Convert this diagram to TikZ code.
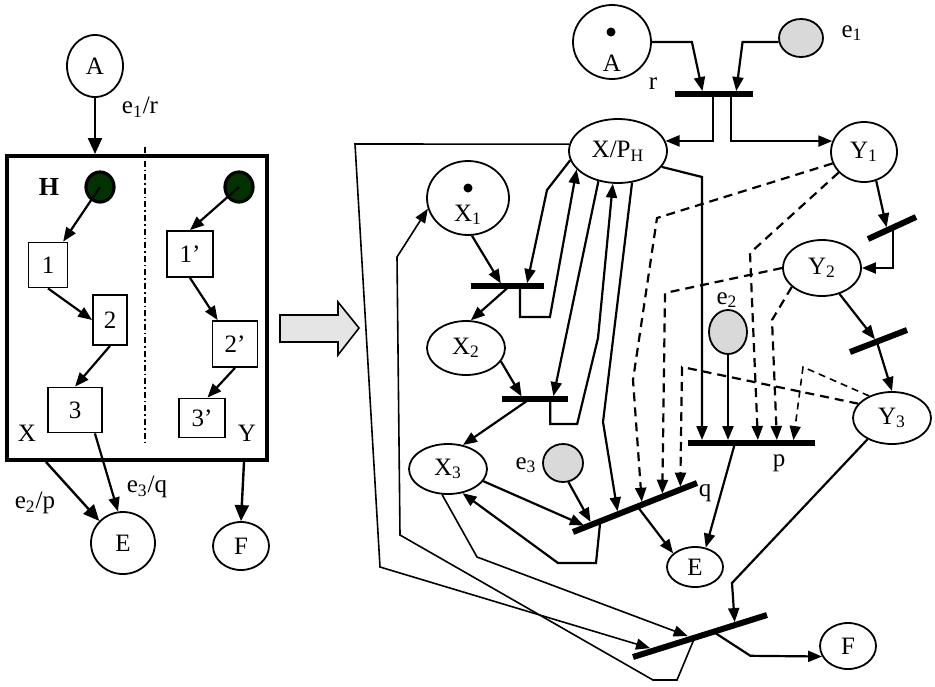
\documentclass[tikz,border=0pt]{standalone}
\usepackage{fontspec}
\setmainfont{Liberation Serif}
\usepackage{tikz}
\usetikzlibrary{arrows.meta,shapes.geometric,calc}
\definecolor{startGreen}{RGB}{0,51,0}
\definecolor{eventGray}{RGB}{217,217,217}

\begin{document}
\begin{tikzpicture}[x=0.5pt,y=-0.5pt,
    font=\fontsize{12.5}{14}\selectfont,
    place/.style={draw,ellipse,line width=0.9pt,inner sep=0pt},
    evt/.style={place,fill=eventGray},
    start/.style={draw,ellipse,fill=startGreen,line width=1.6pt,inner sep=0pt,minimum width=14pt,minimum height=15pt},
    state/.style={draw,rectangle,line width=0.9pt,inner sep=0pt},
    arc/.style={-{Triangle[length=7pt,width=5.5pt]},line width=1.1pt},
    bigarc/.style={-{Triangle[length=8pt,width=7pt]},line width=1.2pt},
    dep/.style={arc,dash pattern=on 4.5pt off 3pt},
    route/.style={arc,line width=0.8pt},
    tobar/.style={shorten >=1.5pt},
    bar/.style={line width=3pt},
    tok/.style={circle,fill,inner sep=0pt,minimum size=4.5pt}]
  \useasboundingbox (0,0) rectangle (935,686);

  % LEFT: hierarchical state H
  \node[place,minimum width=28pt,minimum height=31pt] (hA) at (95,66) {A};
  \node (lr) at (140,107) {e\textsubscript{1}/r};
  \node[draw,line width=2pt,inner sep=0pt,minimum width=130pt,minimum height=152pt] (H) at (137,308) {};
  \coordinate (divT) at (145,147);
  \coordinate (divB) at (145,442);
  \draw[line width=0.8pt,dash pattern=on 3pt off 1.5pt on 0.8pt off 1.5pt] (divT) -- (divB);
  \node[font=\fontsize{13}{14}\selectfont\bfseries] (Hlab) at (49,187) {H};
  \node[start] (s1) at (100,187) {};
  \node[start] (s2) at (239,187) {};
  \node[state,minimum width=19.5pt,minimum height=22.5pt] (b1) at (48,265) {1};
  \node[state,minimum width=17pt,minimum height=25pt] (b2) at (110,320) {2};
  \node[state,minimum width=27pt,minimum height=22.5pt] (b3) at (75,410) {3};
  \node[state,minimum width=23pt,minimum height=23pt] (c1) at (190,254) {1’};
  \node[state,minimum width=22.5pt,minimum height=23pt] (c2) at (235,344) {2’};
  \node[state,minimum width=23pt,minimum height=19.5pt] (c3) at (202,418) {3’};
  \node (lX) at (27,433) {X};
  \node (lY) at (247,433) {Y};
  \node[place,minimum width=32pt,minimum height=31pt] (hE) at (123,543) {E};
  \node[place,minimum width=28pt,minimum height=24pt] (hF) at (241,546) {F};
  \node (lp) at (35,503) {e\textsubscript{2}/p};
  \node (lq) at (147,487) {e\textsubscript{3}/q};

  \draw[bigarc] (hA) -- (hA |- H.north);
  \draw[arc] (s1.center) -- (b1.57);
  \draw[arc] (b1.south) -- (b2.west);
  \draw[arc] (b2.south) -- (b3.north);
  \draw[arc] (s2.center) -- (c1.north);
  \draw[arc] (c1.south) -- (c2.126);
  \draw[arc] (c2.south) -- (c3.75);
  \draw[bigarc] ($(H.south west)+(41,0)$) -- (hE.137);
  \draw[arc] ($(b3.south east)+(-8,0)$) -- (hE.99);
  \draw[bigarc] ($(H.south east)+(-25,0)$) -- (hF.north);

  % block arrow
  \draw[line width=0.8pt,fill=gray!20] (280,315) -- (338,315) -- (338,302) -- (359,328)
    -- (338,355) -- (338,342) -- (280,342) -- cycle;

  % RIGHT: Petri net
  \node[place,minimum width=39pt,minimum height=37pt] (A) at (612,42) {};
  \node[tok] (Atok) at (611,32) {};
  \node (Alab) at (612,63) {A};
  \node[evt,minimum width=22pt,minimum height=19pt] (e1) at (801,38) {};
  \node (e1lab) at (852,33) {e\textsubscript{1}};
  \node (rlab) at (653,84) {r};
  \node[place,minimum width=49pt,minimum height=32pt] (XP) at (618,151) {X/P\textsubscript{H}};
  \node[place,minimum width=33pt,minimum height=30pt] (Y1) at (864,152) {Y\textsubscript{1}};
  \node[place,minimum width=39pt,minimum height=28pt] (Y2) at (822,268) {Y\textsubscript{2}};
  \node[place,minimum width=39pt,minimum height=26pt] (Y3) at (892,418) {Y\textsubscript{3}};
  \node[place,minimum width=41pt,minimum height=37pt] (X1) at (468,198) {};
  \node[tok] (X1tok) at (468,188) {};
  \node (X1lab) at (468,215) {X\textsubscript{1}};
  \node[place,minimum width=39pt,minimum height=27pt] (X2) at (466,348) {X\textsubscript{2}};
  \node[place,minimum width=39pt,minimum height=25pt] (X3) at (448,469) {X\textsubscript{3}};
  \node[evt,minimum width=19pt,minimum height=22pt] (e2) at (728,332) {};
  \node (e2lab) at (727,300) {e\textsubscript{2}};
  \node[evt,minimum width=20pt,minimum height=19pt] (e3) at (563,463) {};
  \node (e3lab) at (526,465) {e\textsubscript{3}};
  \node[place,minimum width=28pt,minimum height=20pt] (E) at (695,567) {E};
  \node[place,minimum width=28pt,minimum height=23pt] (F) at (848,646) {F};
  \node (plab) at (779,463) {p};
  \node (qlab) at (705,493) {q};

  % transition bars
  \coordinate (rL) at (675,94);   \coordinate (rR) at (753,94);
  \coordinate (t1L) at (471,286); \coordinate (t1R) at (544,286);
  \coordinate (t2L) at (502,399); \coordinate (t2R) at (568,399);
  \coordinate (qL) at (573,532);  \coordinate (qR) at (697,483);
  \coordinate (pL) at (688,443);  \coordinate (pR) at (815,443);
  \coordinate (fL) at (633,657);  \coordinate (fR) at (767,615);
  \coordinate (y1L) at (868,239); \coordinate (y1R) at (916,217);
  \coordinate (y2L) at (850,352); \coordinate (y2R) at (907,330);

  % r
  \draw[arc,tobar] (A.east) -- ++(40,0) -- ($(rL)!0.36!(rR)$);
  \draw[arc,tobar] (e1.190) -- ++(-36,0) -- ($(rL)!0.78!(rR)$);
  \draw[arc] ($(rL)!0.49!(rR)$) |- (XP.12);
  \draw[arc] ($(rL)!0.72!(rR)$) |- (Y1.161);
  % Y chain
  \draw[arc,tobar] (Y1.-67) -- ($(y1L)!0.4!(y1R)$);
  \draw[arc] ($(y1L)!0.52!(y1R)$) |- (Y2.east);
  \draw[arc,tobar] (Y2.-56) -- ($(y2L)!0.47!(y2R)$);
  \draw[arc] ($(y2L)!0.47!(y2R)$) -- (Y3.north);
  \draw[arc,tobar] (Y3.-139) -- (732,583) -- ($(fL)!0.76!(fR)$);
  \draw[arc] ($(fL)!0.6!(fR)$) -- ++(37,24) -- (F.202);
  % p
  \draw[arc] ($(pL)!0.37!(pR)$) -- (E.61);
  \draw[arc,tobar] (e2) -- (e2 |- pL);
  \draw[arc,tobar] (XP.-20) -- (702,177) -- ($(pL)+(14,0)$);
  \draw[dep,tobar] (Y1.219) -- (750,253) -- ($(pL)+(70,0)$);
  \draw[dep,tobar] (Y2.212) -- (772,320) -- ($(pL)+(89,0)$);
  \draw[dep,tobar,line width=0.8pt,dash pattern=on 3.5pt off 2.5pt] (Y3.136) -- (803,367) -- ($(pL)+(105,0)$);
  % q
  \draw[dep,tobar] (Y1.200) -- (657,218) -- (633,380) -- ($(qL)!0.556!(qR)$);
  \draw[dep,tobar] (Y2.west) -- (665,293) -- ($(qL)!0.72!(qR)$);
  \draw[dep,tobar] (Y3.157) -- (682,367) -- ($(qL)!0.865!(qR)$);
  \draw[arc,tobar] (XP.-66) -- (603,422) -- ($(qL)!0.363!(qR)$);
  \draw[arc,tobar] (e3.-74) -- ($(qL)!0.153!(qR)$);
  \draw[arc,tobar] (X3.-19) -- ($(qL)!0.11!(qR)$);
  \draw[arc] ($(qL)!0.22!(qR)$) -- (596,563) -- (558,563) -- (X3.-59);
  \draw[arc] ($(qL)!0.52!(qR)$) -- (E.148);
  % X chain
  \draw[arc,tobar] (X1.-84) -- ($(t1L)!0.43!(t1R)$);
  \draw[arc,tobar] (XP.191) -- (547,190) -- ($(t1L)!0.76!(t1R)$);
  \draw[arc] ($(t1L)!0.67!(t1R)$) -- ++(0,31) -- ++(30,0) -- (XP.204);
  \draw[arc] ($(t1L)!0.53!(t1R)$) -- (X2.80);
  \draw[arc,tobar] (X2.-21) -- ($(t2L)!0.32!(t2R)$);
  \draw[arc,tobar] (XP.237) -- ($(t2L)!0.77!(t2R)$);
  \draw[arc] ($(t2L)!0.73!(t2R)$) -- ++(0,25) -- ++(27,0) -- (598,338) -- (XP.261);
  \draw[arc] ($(t2L)!0.42!(t2R)$) -- (X3.58);
  % F transition routes
  \draw[route,shorten >=3pt] (XP.172) -- (355,144) -- (380,567) -- ($(fL)!0.17!(fR)$);
  \draw[route,shorten >=3pt] (X3.-103) -- (477,557) -- ($(fL)!0.45!(fR)$);
  \draw[route] ($(fL)!0.46!(fR)$) -- (677,680) -- (653,680) -- (400,535) -- (397,257) -- (X1.195);

  \foreach \b in {r,t1,t2,q,p,f,y1,y2}
    \draw[bar] (\b L) -- (\b R);
\end{tikzpicture}
\end{document}
